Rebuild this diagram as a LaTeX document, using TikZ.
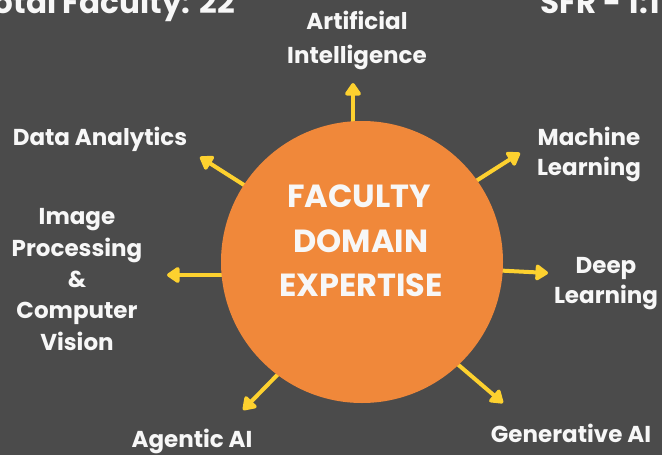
\documentclass[tikz,border=0pt]{standalone}
\usepackage{fontspec}
\setmainfont{Poppins}
\usetikzlibrary{arrows.meta}
\definecolor{bg}{HTML}{4B4B4B}
\definecolor{org}{HTML}{F0883A}
\definecolor{ylw}{HTML}{FDD12F}
\definecolor{txt}{HTML}{F7F7F7}
\begin{document}
\begin{tikzpicture}[x=1pt,y=-1pt,
  lbl/.style={text=txt, inner sep=0pt, align=center, anchor=base},
  arr/.style={draw=ylw, line width=4pt, -{Triangle[length=14pt,width=18pt,round]}}]
\fill[bg] (0,0) rectangle (662,455);
\useasboundingbox (0,0) rectangle (662,455);
% arrow ends
\coordinate (aiS) at (353,135); \coordinate (aiT) at (353,83);
\coordinate (daS) at (255,192); \coordinate (daT) at (200,157);
\coordinate (mlS) at (465,188); \coordinate (mlT) at (520,153);
\coordinate (dlS) at (490,270); \coordinate (dlT) at (548,273);
\coordinate (ipS) at (235,275); \coordinate (ipT) at (167,275);
\coordinate (agS) at (287,365); \coordinate (agT) at (243,410);
\coordinate (gaS) at (448,356); \coordinate (gaT) at (503,403);
\foreach \s/\t in {aiS/aiT,daS/daT,mlS/mlT,dlS/dlT,ipS/ipT,agS/agT,gaS/gaT}
  \draw[arr] (\s) -- (\t);
% circle
\node[circle, fill=org, minimum size=282pt, inner sep=0pt] (c) at (362,262) {};
\node[lbl, font=\bfseries\fontsize{32}{44}\selectfont] (t1) at (359,207) {FACULTY};
\node[lbl, font=\bfseries\fontsize{32}{44}\selectfont] (t2) at (361,252) {DOMAIN};
\node[lbl, font=\bfseries\fontsize{32}{44}\selectfont] (t3) at (361,296) {EXPERTISE};
% labels
\node[lbl, font=\bfseries\fontsize{23}{33}\selectfont] (ai) at (357,63) {Artificial\\Intelligence};
\node[lbl, font=\bfseries\fontsize{23}{30}\selectfont] (da) at (100,145) {Data Analytics};
\node[lbl, font=\bfseries\fontsize{23}{30}\selectfont] (ml) at (589,175) {Machine\\Learning};
\node[lbl, font=\bfseries\fontsize{23}{30}\selectfont] (dl) at (606,303) {Deep\\Learning};
\node[lbl, font=\bfseries\fontsize{23}{31.3}\selectfont] (ip) at (77,350) {Image\\Processing\\\&\\Computer\\Vision};
\node[lbl, font=\bfseries\fontsize{23}{30}\selectfont] (ag) at (192,447) {Agentic AI};
\node[lbl, font=\bfseries\fontsize{23}{30}\selectfont] (ga) at (571,442) {Generative AI};
% top texts
\node[text=txt, inner sep=0pt, anchor=base east, font=\bfseries\fontsize{31}{34}\selectfont] (tf) at (235,13) {Total Faculty: 22};
\node[text=txt, inner sep=0pt, anchor=base west, font=\bfseries\fontsize{31}{34}\selectfont] (sfr) at (540,13) {SFR - 1:1};
\end{tikzpicture}
\end{document}
